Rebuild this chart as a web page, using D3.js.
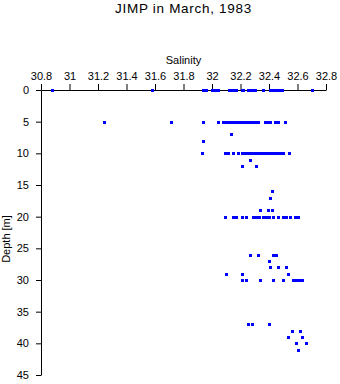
<!DOCTYPE html>
<html><head><meta charset="utf-8">
<script src="https://cdn.jsdelivr.net/npm/d3@7"></script>
<style>body{margin:0;background:#fff}svg{display:block}text{font-family:"Liberation Sans",Arial,sans-serif}</style>
</head><body>
<script>
const title = "JIMP in March, 1983";
const xLabel = "Salinity";
const yLabel = "Depth [m]";
const xTicks = [30.8,31,31.2,31.4,31.6,31.8,32,32.2,32.4,32.6,32.8];
const xTickLabels = ["30.8","31","31.2","31.4","31.6","31.8","32","32.2","32.4","32.6","32.8"];
const yTicks = [0,5,10,15,20,25,30,35,40,45];
const yTickLabels = ["0","5","10","15","20","25","30","35","40","45"];
// observations grouped by depth
const depths = [0,5,7,8,10,11,12,16,17,19,20,26,27,28,29,30,37,38,39,40,41];
const salinities = [
  [30.88,31.58,31.94,31.96,32.00,32.02,32.04,32.12,32.14,32.16,32.17,32.21,32.22,32.25,32.27,32.29,32.30,32.36,32.41,32.43,32.45,32.47,32.49,32.70],
  [31.24,31.71,31.94,32.04,32.08,32.10,32.12,32.14,32.16,32.18,32.20,32.22,32.24,32.26,32.28,32.30,32.32,32.37,32.39,32.41,32.44,32.46,32.51],
  [32.13],
  [31.94],
  [31.93,32.09,32.11,32.15,32.18,32.21,32.23,32.25,32.27,32.29,32.31,32.32,32.34,32.36,32.38,32.40,32.42,32.44,32.46,32.48,32.50,32.54],
  [32.27],
  [32.21,32.31],
  [32.42],
  [32.41],
  [32.34,32.39,32.42],
  [32.09,32.15,32.17,32.21,32.24,32.29,32.31,32.33,32.36,32.38,32.40,32.43,32.46,32.50,32.52,32.55,32.58,32.60],
  [32.27,32.32,32.43,32.45],
  [32.40],
  [32.41,32.46,32.52],
  [32.10,32.21,32.53],
  [32.21,32.24,32.34,32.43,32.50,32.57,32.59,32.61,32.63],
  [32.25,32.28,32.40],
  [32.56,32.62],
  [32.53,32.63],
  [32.59,32.66],
  [32.60]
];
const points = [];
depths.forEach((d,i)=>salinities[i].forEach(s=>points.push({d,s})));

const W=340,H=384;
const svg=d3.select("body").append("svg").attr("width",W).attr("height",H);
const x=d3.scaleLinear().domain([30.8,32.8]).range([41,326]);
const y=d3.scaleLinear().domain([0,45]).range([90,375]);
const cx=(x.range()[0]+x.range()[1])/2;

svg.append("text").attr("x",cx).attr("y",13).attr("text-anchor","middle")
  .attr("font-size",13.5).attr("letter-spacing",0.7).text(title);
svg.append("text").attr("x",cx).attr("y",64).attr("text-anchor","middle")
  .attr("font-size",11).text(xLabel);
svg.append("text").attr("transform","translate(10,239) rotate(-90)").attr("text-anchor","middle")
  .attr("font-size",11).text(yLabel);

const xa=svg.append("g").attr("transform","translate(0,90)")
  .call(d3.axisTop(x).tickValues(xTicks).tickFormat((d,i)=>xTickLabels[i]).tickSize(6).tickSizeOuter(0).tickPadding(4));
const ya=svg.append("g").attr("transform","translate(41,0)")
  .call(d3.axisLeft(y).tickValues(yTicks).tickFormat((d,i)=>yTickLabels[i]).tickSize(5).tickSizeOuter(0).tickPadding(7));
[xa,ya].forEach(g=>{
  g.selectAll("text").attr("font-size",11).attr("fill","#000").style("font-family","'Liberation Sans',Arial,sans-serif");
  g.selectAll("line,path").attr("stroke","#000").attr("stroke-width",1);
});

svg.append("g").selectAll("rect").data(points).join("rect")
  .attr("x",p=>Math.round(x(p.s))-1).attr("y",p=>Math.round(y(p.d))-1)
  .attr("width",3).attr("height",3).attr("fill","#0000ff");
</script>
</body></html>
